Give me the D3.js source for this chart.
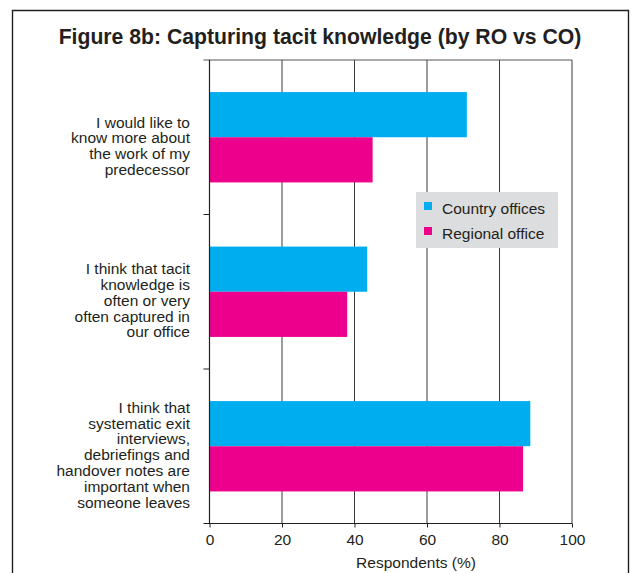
<!DOCTYPE html>
<html>
<head>
<meta charset="utf-8">
<script src="https://cdn.jsdelivr.net/npm/d3@7"></script>
<style>
  html, body { margin: 0; padding: 0; background: #fff; }
  svg { display: block; }
  text { font-family: "Liberation Sans", Arial, sans-serif; fill: #231f20; }
</style>
</head>
<body>
<svg id="chart" width="634" height="573"></svg>
<script>
// Survey statements (each split into display lines)
const categories = [
  ["I would like to", "know more about", "the work of my", "predecessor"],
  ["I think that tacit", "knowledge is", "often or very", "often captured in", "our office"],
  ["I think that", "systematic exit", "interviews,", "debriefings and", "handover notes are", "important when", "someone leaves"]
];
const seriesNames = ["Country offices", "Regional office"];
const countryOffices = [71, 43.5, 88.5];
const regionalOffice = [45, 38, 86.5];
const xTicks = [0, 20, 40, 60, 80, 100];
const colors = ["#00aeef", "#ec008c"];

const svg = d3.select("#chart");

// Frame around the figure
svg.append("path")
  .attr("d", "M12.5,580 V10.5 H628.5 V580")
  .attr("fill", "none").attr("stroke", "#231f20").attr("stroke-width", 1.4);

// Title
svg.append("text")
  .attr("x", 320).attr("y", 44)
  .attr("text-anchor", "middle")
  .style("font-weight", "bold").style("font-size", "21.2px")
  .text("Figure 8b: Capturing tacit knowledge (by RO vs CO)");

const plotL = 209.5, plotR = 572, plotT = 60, plotB = 523.5;

const x = d3.scaleLinear().domain([0, 100]).range([plotL, plotR]);
const catIdx = categories.map((d, i) => i);
const y = d3.scaleBand().domain(catIdx).range([plotT, plotB]).padding(0);
const ySub = d3.scaleBand().domain(seriesNames).range([0, y.bandwidth()])
  .paddingInner(0).paddingOuter(0.71);

// Vertical gridlines
svg.append("g").selectAll("line").data(xTicks.slice(1)).join("line")
  .attr("x1", d => x(d)).attr("x2", d => x(d))
  .attr("y1", plotT).attr("y2", plotB)
  .attr("stroke", "#3a3a3a").attr("stroke-width", 1);

// Top border of plot
svg.append("line")
  .attr("x1", plotL - 6).attr("x2", plotR).attr("y1", plotT).attr("y2", plotT)
  .attr("stroke", "#555").attr("stroke-width", 1);

// Bars
const rows = catIdx.map(i => [
  { s: seriesNames[0], v: countryOffices[i], c: colors[0], i },
  { s: seriesNames[1], v: regionalOffice[i], c: colors[1], i }
]);
svg.append("g").selectAll("g").data(rows).join("g")
  .attr("transform", (d, i) => `translate(0,${y(i)})`)
  .selectAll("rect").data(d => d).join("rect")
  .attr("x", x(0))
  .attr("y", d => ySub(d.s))
  .attr("width", d => x(d.v) - x(0))
  .attr("height", ySub.bandwidth())
  .attr("fill", d => d.c);

// X axis
const xAxis = svg.append("g")
  .attr("transform", `translate(0,${plotB})`)
  .call(d3.axisBottom(x).tickValues(xTicks).tickSize(4).tickPadding(6).tickSizeOuter(0));
xAxis.select(".domain").remove();
xAxis.append("line").attr("x1", plotL - 6).attr("x2", plotR).attr("y1", 0).attr("y2", 0)
  .attr("stroke", "#231f20");
xAxis.selectAll(".tick line").attr("stroke", "#231f20");
xAxis.selectAll(".tick text")
  .style("font-size", "15.5px").style("font-family", "Liberation Sans, Arial, sans-serif")
  .attr("fill", "#231f20");

// Y axis line with ticks at category boundaries
svg.append("line").attr("x1", plotL).attr("x2", plotL).attr("y1", plotT).attr("y2", plotB)
  .attr("stroke", "#231f20").attr("stroke-width", 1.2);
svg.append("g").selectAll("line").data(catIdx.slice(1)).join("line")
  .attr("x1", plotL - 6).attr("x2", plotL)
  .attr("y1", d => y(d)).attr("y2", d => y(d))
  .attr("stroke", "#231f20");

// Category labels
const lh = 15.8;
svg.append("g").selectAll("text").data(categories).join("text")
  .attr("text-anchor", "end")
  .style("font-size", "15.5px")
  .each(function (lines, i) {
    const cy = y(i) + y.bandwidth() / 2 + 14;
    d3.select(this).selectAll("tspan").data(lines).join("tspan")
      .attr("x", 190)
      .attr("y", (d, k) => cy + (k - (lines.length - 1) / 2) * lh)
      .text(d => d);
  });

// Axis title
svg.append("text")
  .attr("x", 416).attr("y", 568)
  .attr("text-anchor", "middle")
  .style("font-size", "15.5px")
  .text("Respondents (%)");

// Legend
const legend = svg.append("g").attr("transform", "translate(416,192)");
legend.append("rect").attr("width", 142).attr("height", 56).attr("fill", "#dcddde");
const li = legend.selectAll("g").data(seriesNames).join("g")
  .attr("transform", (d, i) => `translate(0,${i * 25})`);
li.append("rect").attr("x", 8).attr("y", 10).attr("width", 8).attr("height", 8)
  .attr("fill", (d, i) => colors[i]);
li.append("text").attr("x", 26).attr("y", 22).style("font-size", "15.5px").text(d => d);
</script>
</body>
</html>
